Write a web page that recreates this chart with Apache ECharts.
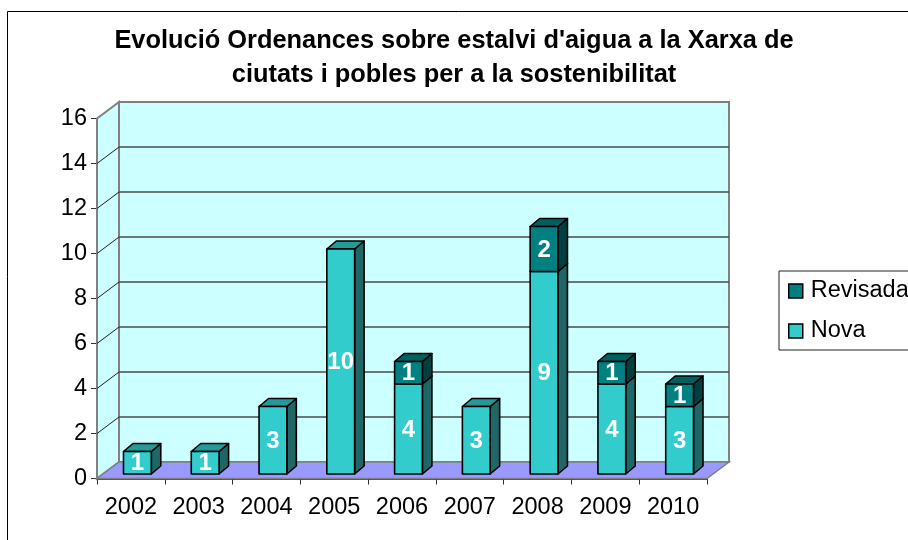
<!DOCTYPE html>
<html><head><meta charset="utf-8">
<script src="https://cdn.jsdelivr.net/npm/echarts@6/dist/echarts.min.js"></script>
<style>html,body{margin:0;padding:0;background:#fff}#c{width:908px;height:540px}</style>
</head><body><div id="c"></div>
<script>
const titleText = "Evolució Ordenances sobre estalvi d'aigua a la Xarxa de\nciutats i pobles per a la sostenibilitat";
const categories = ['2002','2003','2004','2005','2006','2007','2008','2009','2010'];
const nova = [1,1,3,10,4,3,9,4,3];
const revisada = [0,0,0,0,1,0,2,1,1];
const yTicks = [0,2,4,6,8,10,12,14,16];

const FONT = '"Liberation Sans", Arial, sans-serif';
const WALL_DX = 22, WALL_DY = -16.5;
const BAR_DX = 6.5, BAR_DY = -4.5, SIDE_DX = 9.5, SIDE_DY = -8;
const C = {
  wall:'#CCFFFF', floor:'#9999FF', wallEdge:'#808080', grid:'#4a4a4a',
  nova:{front:'#33CCCC', top:'#269999', side:'#1F6666'},
  rev:{front:'#008080', top:'#006060', side:'#004040'}
};

function renderWalls(params){
  const r = params.coordSys, l=r.x, t=r.y, b=r.y+r.height, R=r.x+r.width;
  const d = WALL_DX, e = WALL_DY;
  const poly=(pts,fill,stroke,w)=>({type:'polygon',shape:{points:pts},style:{fill,stroke:stroke||null,lineWidth:w||0}});
  return {type:'group',children:[
    poly([[l+d,t+e],[R+d,t+e],[R+d,b+e],[l+d,b+e]],C.wall,C.wallEdge,2),
    poly([[l,t],[l+d,t+e],[l+d,b+e],[l,b]],C.wall,C.wallEdge,2),
    poly([[l,b],[l+d,b+e],[R+d,b+e],[R,b]],C.floor,C.wallEdge,1.5)
  ]};
}
function renderGrid(params,api){
  const v = api.value(1);
  if(v===0) return null;
  const r = params.coordSys, y = api.coord([0,v])[1];
  const l=r.x, R=r.x+r.width;
  const kids=[{type:'line',shape:{x1:l+WALL_DX,y1:y+WALL_DY,x2:R+WALL_DX,y2:y+WALL_DY},style:{stroke:v===16?C.wallEdge:C.grid,lineWidth:v===16?2:1.5}}];
  if(v!==16) kids.push({type:'line',shape:{x1:l,y1:y,x2:l+WALL_DX,y2:y+WALL_DY},style:{stroke:'#222',lineWidth:1}});
  return {type:'group',children:kids};
}
function makeBar(pal){
  return function(params,api){
    const idx=api.value(0), base=api.value(1), top=api.value(2);
    if(top===base) return null;
    const w=api.size([1,0])[0]*0.41;
    const c0=api.coord([idx,base]), c1=api.coord([idx,top]);
    const x0=c0[0]-w/2+BAR_DX, x1=x0+w, yb=c0[1]+BAR_DY, yt=c1[1]+BAR_DY;
    const sx=SIDE_DX, sy=SIDE_DY, st={stroke:'#000',lineWidth:1.6,lineJoin:'round'};
    const face=(pts,fill)=>({type:'polygon',shape:{points:pts},style:Object.assign({fill},st)});
    return {type:'group',children:[
      face([[x1,yb],[x1+sx,yb+sy],[x1+sx,yt+sy],[x1,yt]],pal.side),
      face([[x0,yt],[x0+sx,yt+sy],[x1+sx,yt+sy],[x1,yt]],pal.top),
      face([[x0,yb],[x1,yb],[x1,yt],[x0,yt]],pal.front),
      {type:'text',style:{text:String(top-base),x:(x0+x1)/2,y:(yb+yt)/2+1,align:'center',verticalAlign:'middle',
        fill:'#fff',font:'bold 24px '+FONT}}
    ]};
  };
}
const chart = echarts.init(document.getElementById('c'),null,{renderer:'canvas'});
chart.setOption({
  animation:false,
  backgroundColor:'#fff',
  title:{text:titleText,left:449,top:19,textAlign:'center',
    textStyle:{fontFamily:FONT,fontWeight:'bold',fontSize:25.4,lineHeight:34,color:'#000'}},
  legend:{left:779,top:271,orient:'vertical',padding:[8,60,7,9],itemGap:16,itemWidth:14,itemHeight:14,
    borderColor:'#222',borderWidth:1,backgroundColor:'#fff',icon:'rect',
    textStyle:{fontFamily:FONT,fontSize:23.5,color:'#000',padding:[0,0,0,3],lineHeight:24},
    data:[
      {name:'Revisada',itemStyle:{color:C.rev.front,borderColor:'#000',borderWidth:1.5}},
      {name:'Nova',itemStyle:{color:C.nova.front,borderColor:'#000',borderWidth:1.5}}
    ]},
  grid:{left:97,right:201,top:118.5,bottom:61.5},
  xAxis:{type:'category',data:categories,
    axisLine:{lineStyle:{color:'#111',width:1.5}},
    axisTick:{show:true,length:6,lineStyle:{color:'#333'}},
    axisLabel:{fontFamily:FONT,fontSize:23.5,color:'#000',margin:17,interval:0},
    splitLine:{show:false}},
  yAxis:{type:'value',min:0,max:16,interval:2,
    axisLine:{show:true,lineStyle:{color:'#222',width:1.5}},
    axisTick:{show:true,length:6,lineStyle:{color:'#333'}},
    axisLabel:{fontFamily:FONT,fontSize:23.5,color:'#000',margin:10},
    splitLine:{show:false}},
  graphic:[{type:'rect',silent:true,z:-10,shape:{x:7.5,y:11.5,width:1000,height:700},style:{fill:'#fff',stroke:'#000',lineWidth:1}}],
  series:[
    {type:'custom',z:1,silent:true,renderItem:renderWalls,data:[[0,0]],encode:{x:0,y:1}},
    {type:'custom',z:2,silent:true,renderItem:renderGrid,data:yTicks.map(v=>[0,v]),encode:{x:0,y:1}},
    {type:'custom',z:3,name:'Nova',renderItem:makeBar(C.nova),itemStyle:{color:C.nova.front},
      data:nova.map((v,i)=>[i,0,v]),encode:{x:0,y:[1,2]}},
    {type:'custom',z:4,name:'Revisada',renderItem:makeBar(C.rev),itemStyle:{color:C.rev.front},
      data:revisada.map((v,i)=>[i,nova[i],nova[i]+v]),encode:{x:0,y:[1,2]}}
  ]
});
</script></body></html>
